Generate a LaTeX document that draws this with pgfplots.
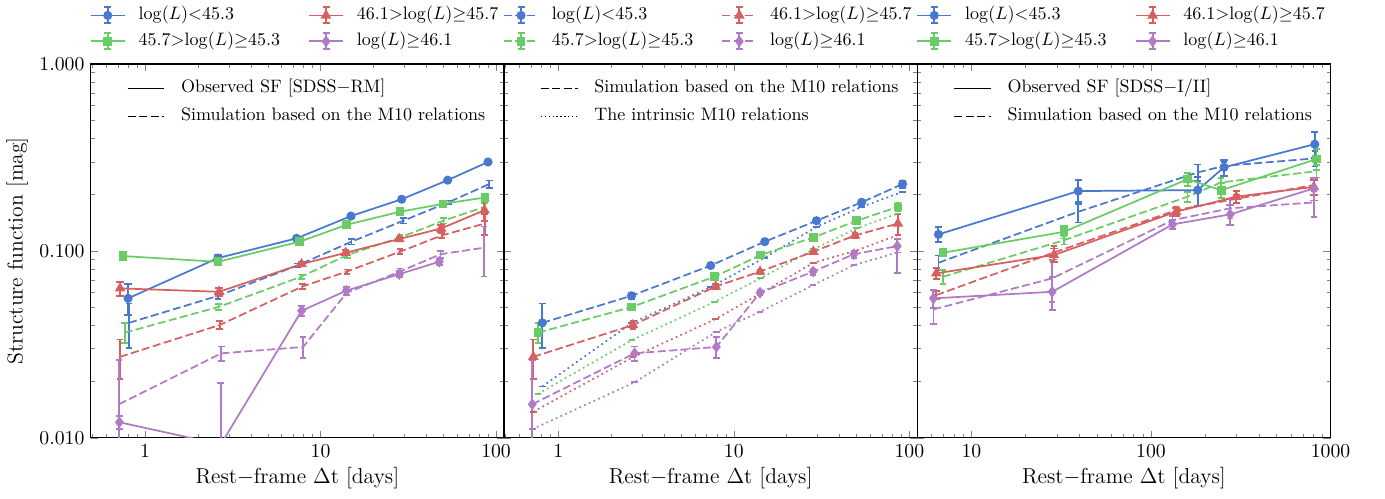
\documentclass[border=0pt]{standalone}
\usepackage{pgfplots}
\pgfplotsset{compat=1.18}
\definecolor{cb}{HTML}{4878D0}
\definecolor{cg}{HTML}{6ACC64}
\definecolor{cr}{HTML}{D65F5F}
\definecolor{cp}{HTML}{B07AC6}
\newcommand\LL{{\mathrm{log}}(L)}
\pgfplotsset{
  myB/.style={color=cb, mark=*, mark size=2.04pt},
  myG/.style={color=cg, mark=square*, mark size=1.92pt},
  myR/.style={color=cr, mark=triangle*, mark size=2.5pt},
  myP/.style={color=cp, mark=diamond*, mark size=2.5pt},
  myObs/.style={solid, line width=0.96pt, mark options={solid},
    error bars/y dir=both, error bars/y explicit,
    error bars/error bar style={line width=1.08pt, solid},
    error bars/error mark options={rotate=90, line width=1.08pt, solid, mark size=2.04pt}},
  mySim/.style={dash pattern=on 4.44pt off 1.92pt, line width=0.96pt, mark options={solid},
    error bars/y dir=both, error bars/y explicit,
    error bars/error bar style={line width=0.96pt, solid},
    error bars/error mark options={rotate=90, line width=0.96pt, solid, mark size=1.8pt}},
  myIntr/.style={dash pattern=on 0.96pt off 1.92pt, line width=0.96pt, mark=-, mark size=1.8pt,
    mark options={solid}},
  myTop/.style={legend columns=2, legend cell align=left,
    legend style={draw=none, fill=none, font=\fontsize{10}{12}\selectfont,
      at={(0.5,1)}, anchor=south, yshift=6.4pt, inner sep=0pt, row sep=2.4pt,
      /tikz/every even column/.append style={column sep=12pt},
      /tikz/every odd column/.append style={column sep=3.6pt},
      nodes={inner xsep=3.6pt, inner ysep=1.2pt, text height=7.2pt, text depth=2.4pt}}},
  myIn/.style={legend cell align=left,
    legend style={draw=none, fill=none, font=\fontsize{10}{12}\selectfont,
      at={(0,1)}, anchor=north west, xshift=19.95pt, yshift=-7.45pt,
      inner sep=0pt, row sep=3.5pt,
      /tikz/every odd column/.append style={column sep=5.3pt},
      nodes={inner xsep=3.6pt, inner ysep=1.2pt, text height=7.2pt, text depth=2.4pt}}},
}
\newcommand\errlegcode[1]{%
  \draw[#1, mark=none] (0pt,0pt) -- (18.9pt,0pt);
  \draw[#1, solid, mark=none, line width=1.08pt] (9.45pt,-4.45pt) -- (9.45pt,4.45pt)
     (7.5pt,-4.45pt) -- (11.4pt,-4.45pt) (7.5pt,4.45pt) -- (11.4pt,4.45pt);
  \path[#1, mark options={solid}] plot coordinates {(9.45pt,0pt)};}
\newcommand\linelegcode[1]{\draw[#1] (0pt,0pt) -- (20.4pt,0pt);}
\begin{document}
\begin{tikzpicture}
\useasboundingbox (0,0) rectangle (769.44pt,276.67pt);
% ================= Panel 1 =================
\begin{axis}[at={(50.4pt,33.5pt)}, anchor=south west,
  scale only axis, width=229.6pt, height=207.6pt,
  xmode=log, ymode=log, ymin=0.01, ymax=1,
  xmin=0.49, xmax=111,
  tick align=inside,
  major tick length=3.97pt, minor tick length=2.16pt,
  axis line style={line width=0.72pt},
  xtick={1,10,100}, xticklabels={1,10,100},
  minor xtick={0.5,0.6,0.7,0.8,0.9,2,3,4,5,6,7,8,9,20,30,40,50,60,70,80,90},
  ytick={0.01,0.1,1}, yticklabels={0.010,0.100,1.000},
  minor ytick={0.02,0.03,0.04,0.05,0.06,0.07,0.08,0.09,0.2,0.3,0.4,0.5,0.6,0.7,0.8,0.9},
  tick label style={font=\fontsize{10.95}{13}\selectfont},
  label style={font=\fontsize{12}{14}\selectfont},
  x label style={at={(axis description cs:0.5,-0.108)}, anchor=center},
  y label style={at={(axis description cs:-0.178,0.5)}, anchor=center},
  xlabel={Rest$-$frame $\Delta$t [days]},
  ylabel={Structure function [mag]},
  myTop, legend image code/.code={\errlegcode{#1}}]
\addlegendimage{cb, solid, mark=*, mark size=2.04pt, line width=0.96pt}
\addlegendentry{$\LL{<}45.3$}
\addlegendimage{cr, solid, mark=triangle*, mark size=2.5pt, line width=0.96pt}
\addlegendentry{$46.1{>}\LL{\geq}45.7$}
\addlegendimage{cg, solid, mark=square*, mark size=1.92pt, line width=0.96pt}
\addlegendentry{$45.7{>}\LL{\geq}45.3$}
\addlegendimage{cp, solid, mark=diamond*, mark size=2.5pt, line width=0.96pt}
\addlegendentry{$\LL{\geq}46.1$}
\addplot[myB, mySim, mark=none, forget plot] coordinates {
 (0.81,0.0412) +- (0,0.011) (2.61,0.0575) +- (0,0.002) (7.38,0.0835) +- (0,0.002)
 (15.0,0.112) +- (0,0.004) (29.6,0.145) +- (0,0.005) (53.5,0.182) +- (0,0.004)
 (91.6,0.228) +- (0,0.01)};
\addplot[myG, mySim, mark=none, forget plot] coordinates {
 (0.765,0.0365) +- (0,0.0045) (2.62,0.0501) +- (0,0.002) (7.77,0.0728) +- (0,0.002)
 (14.2,0.095) +- (0,0.003) (28.4,0.118) +- (0,0.004) (50.1,0.145) +- (0,0.005)
 (86.1,0.172) +- (0,0.008)};
\addplot[myR, mySim, mark=none, forget plot] coordinates {
 (0.72,0.0271) +- (0,0.0064) (2.66,0.0401) +- (0,0.002) (7.88,0.0645) +- (0,0.002)
 (14.1,0.0775) +- (0,0.002) (28.4,0.099) +- (0,0.003) (49,0.121) +- (0,0.004)
 (86.1,0.140) +- (0,0.018)};
\addplot[myP, mySim, mark=none, forget plot] coordinates {
 (0.71,0.0151) +- (0,0.011) (2.72,0.0283) +- (0,0.0025) (7.95,0.0306) +- (0,0.004)
 (14.1,0.0597) +- (0,0.002) (28.3,0.0775) +- (0,0.003) (48.3,0.096) +- (0,0.004)
 (85.4,0.104) +- (0,0.031)};
\addplot[myB, myObs, forget plot] coordinates {
 (0.80,0.0557) +- (0,0.0105) (2.6,0.0915) +- (0,0.003) (7.3,0.1167) +- (0,0.002)
 (14.9,0.1536) +- (0,0.003) (29,0.189) +- (0,0.003) (53,0.239) +- (0,0.003)
 (90,0.299) +- (0,0.004)};
\addplot[myG, myObs, forget plot] coordinates {
 (0.75,0.0938) +- (0,0.005) (2.6,0.0874) +- (0,0.002) (7.6,0.112) +- (0,0.002)
 (14.1,0.138) +- (0,0.002) (28.4,0.162) +- (0,0.003) (49.8,0.1786) +- (0,0.003)
 (86.5,0.193) +- (0,0.004)};
\addplot[myR, myObs, forget plot] coordinates {
 (0.72,0.063) +- (0,0.0055) (2.64,0.0604) +- (0,0.003) (7.8,0.085) +- (0,0.002)
 (13.9,0.0977) +- (0,0.003) (28.1,0.1157) +- (0,0.003) (48.6,0.1318) +- (0,0.006)
 (85.9,0.165) +- (0,0.02)};
\addplot[myP, myObs, forget plot] coordinates {
 (0.714,0.0121) +- (0,0.001) (2.7,0.0092) += (0,0.0104) -= (0,0.005)
 (7.8,0.0478) +- (0,0.003) (14,0.0612) +- (0,0.003) (28.1,0.0751) +- (0,0.003)
 (47.5,0.0875) +- (0,0.003)};
\end{axis}
\begin{axis}[at={(50.4pt,33.5pt)}, anchor=south west,
  scale only axis, width=229.6pt, height=207.6pt, hide axis,
  xmin=0, xmax=1, ymin=0, ymax=1, myIn,
  legend image code/.code={\linelegcode{#1}}]
\addlegendimage{black, line width=0.72pt}
\addlegendentry{Observed SF [SDSS$-$RM]}
\addlegendimage{black, line width=0.72pt, dash pattern=on 4.44pt off 1.92pt}
\addlegendentry{Simulation based on the M10 relations}
\end{axis}
% ================= Panel 2 =================
\begin{axis}[at={(280pt,33.5pt)}, anchor=south west,
  scale only axis, width=229.6pt, height=207.6pt,
  xmode=log, ymode=log, ymin=0.01, ymax=1,
  xmin=0.49, xmax=111,
  tick align=inside,
  major tick length=3.97pt, minor tick length=2.16pt,
  axis line style={line width=0.72pt},
  xtick={1,10,100}, xticklabels={1,10,100},
  minor xtick={0.5,0.6,0.7,0.8,0.9,2,3,4,5,6,7,8,9,20,30,40,50,60,70,80,90},
  ytick={0.01,0.1,1}, yticklabels={},
  minor ytick={0.02,0.03,0.04,0.05,0.06,0.07,0.08,0.09,0.2,0.3,0.4,0.5,0.6,0.7,0.8,0.9},
  tick label style={font=\fontsize{10.95}{13}\selectfont},
  label style={font=\fontsize{12}{14}\selectfont},
  x label style={at={(axis description cs:0.5,-0.108)}, anchor=center},
  xlabel={Rest$-$frame $\Delta$t [days]},
  myTop, legend image code/.code={\errlegcode{#1}}]
\addlegendimage{cb, dash pattern=on 4.44pt off 1.92pt, mark=*, mark size=2.04pt, line width=0.96pt}
\addlegendentry{$\LL{<}45.3$}
\addlegendimage{cr, dash pattern=on 4.44pt off 1.92pt, mark=triangle*, mark size=2.5pt, line width=0.96pt}
\addlegendentry{$46.1{>}\LL{\geq}45.7$}
\addlegendimage{cg, dash pattern=on 4.44pt off 1.92pt, mark=square*, mark size=1.92pt, line width=0.96pt}
\addlegendentry{$45.7{>}\LL{\geq}45.3$}
\addlegendimage{cp, dash pattern=on 4.44pt off 1.92pt, mark=diamond*, mark size=2.5pt, line width=0.96pt}
\addlegendentry{$\LL{\geq}46.1$}
\addplot[myB, myIntr, forget plot] coordinates {
 (0.81,0.0188) (2.61,0.041) (7.38,0.064) (15.0,0.092) (29.6,0.1345) (53.5,0.172) (91.6,0.207)};
\addplot[myG, myIntr, forget plot] coordinates {
 (0.765,0.01715) (2.62,0.0333) (7.77,0.0534) (14.2,0.0713) (28.4,0.102) (50.1,0.132) (86.1,0.1587)};
\addplot[myR, myIntr, forget plot] coordinates {
 (0.72,0.01378) (2.66,0.027) (7.88,0.0432) (14.1,0.059) (28.4,0.0863) (49,0.100) (86.1,0.1215)};
\addplot[myP, myIntr, forget plot] coordinates {
 (0.71,0.0111) (2.72,0.0198) (7.95,0.0369) (14.1,0.0472) (28.3,0.0656) (48.3,0.0839) (85.4,0.098)};
\addplot[myB, mySim, forget plot] coordinates {
 (0.81,0.0412) +- (0,0.011) (2.61,0.0575) +- (0,0.002) (7.38,0.0835) +- (0,0.002)
 (15.0,0.112) +- (0,0.004) (29.6,0.145) +- (0,0.005) (53.5,0.182) +- (0,0.004)
 (91.6,0.228) +- (0,0.01)};
\addplot[myG, mySim, forget plot] coordinates {
 (0.765,0.0365) +- (0,0.0045) (2.62,0.0501) +- (0,0.002) (7.77,0.0728) +- (0,0.002)
 (14.2,0.095) +- (0,0.003) (28.4,0.118) +- (0,0.004) (50.1,0.145) +- (0,0.005)
 (86.1,0.172) +- (0,0.008)};
\addplot[myR, mySim, forget plot] coordinates {
 (0.72,0.0271) +- (0,0.0064) (2.66,0.0401) +- (0,0.002) (7.88,0.0645) +- (0,0.002)
 (14.1,0.0775) +- (0,0.002) (28.4,0.099) +- (0,0.003) (49,0.121) +- (0,0.004)
 (86.1,0.140) +- (0,0.018)};
\addplot[myP, mySim, forget plot] coordinates {
 (0.71,0.0151) +- (0,0.011) (2.72,0.0283) +- (0,0.0025) (7.95,0.0306) +- (0,0.004)
 (14.1,0.0597) +- (0,0.002) (28.3,0.0775) +- (0,0.003) (48.3,0.096) +- (0,0.004)
 (85.4,0.106) += (0,0.01) -= (0,0.03)};
\end{axis}
\begin{axis}[at={(280pt,33.5pt)}, anchor=south west,
  scale only axis, width=229.6pt, height=207.6pt, hide axis,
  xmin=0, xmax=1, ymin=0, ymax=1, myIn,
  legend image code/.code={\linelegcode{#1}}]
\addlegendimage{black, line width=0.72pt, dash pattern=on 4.44pt off 1.92pt}
\addlegendentry{Simulation based on the M10 relations}
\addlegendimage{black, line width=0.6pt, dash pattern=on 0.72pt off 1.44pt}
\addlegendentry{The intrinsic M10 relations}
\end{axis}
% ================= Panel 3 =================
\begin{axis}[at={(509.6pt,33.5pt)}, anchor=south west,
  scale only axis, width=229.6pt, height=207.6pt,
  xmode=log, ymode=log, ymin=0.01, ymax=1,
  xmin=5, xmax=1000,
  tick align=inside,
  major tick length=3.97pt, minor tick length=2.16pt,
  axis line style={line width=0.72pt},
  xtick={10,100,1000}, xticklabels={10,100,1000},
  minor xtick={5,6,7,8,9,20,30,40,50,60,70,80,90,200,300,400,500,600,700,800,900},
  ytick={0.01,0.1,1}, yticklabels={},
  minor ytick={0.02,0.03,0.04,0.05,0.06,0.07,0.08,0.09,0.2,0.3,0.4,0.5,0.6,0.7,0.8,0.9},
  tick label style={font=\fontsize{10.95}{13}\selectfont},
  label style={font=\fontsize{12}{14}\selectfont},
  x label style={at={(axis description cs:0.5,-0.108)}, anchor=center},
  xlabel={Rest$-$frame $\Delta$t [days]},
  myTop, legend image code/.code={\errlegcode{#1}}]
\addlegendimage{cb, solid, mark=*, mark size=2.04pt, line width=0.96pt}
\addlegendentry{$\LL{<}45.3$}
\addlegendimage{cr, solid, mark=triangle*, mark size=2.5pt, line width=0.96pt}
\addlegendentry{$46.1{>}\LL{\geq}45.7$}
\addlegendimage{cg, solid, mark=square*, mark size=1.92pt, line width=0.96pt}
\addlegendentry{$45.7{>}\LL{\geq}45.3$}
\addlegendimage{cp, solid, mark=diamond*, mark size=2.5pt, line width=0.96pt}
\addlegendentry{$\LL{\geq}46.1$}
\addplot[myB, mySim, mark=none, forget plot] coordinates {
 (6.56,0.0864) +- (0,0.008) (39.4,0.162) +- (0,0.02) (182,0.263) +- (0,0.027)
 (255,0.285) +- (0,0.015) (817,0.3126) +- (0,0.03)};
\addplot[myG, mySim, mark=none, forget plot] coordinates {
 (6.95,0.0727) +- (0,0.006) (32.8,0.114) +- (0,0.006) (160,0.195) +- (0,0.012)
 (246,0.2326) +- (0,0.012) (835,0.267) +- (0,0.02)};
\addplot[myR, mySim, mark=none, forget plot] coordinates {
 (6.38,0.058) +- (0,0.003) (28.8,0.098) +- (0,0.008) (138,0.165) +- (0,0.006)
 (298.5,0.19) +- (0,0.01) (807,0.225) +- (0,0.015)};
\addplot[myP, mySim, mark=none, forget plot] coordinates {
 (6.15,0.0486) +- (0,0.008) (28.2,0.0713) +- (0,0.018) (132,0.146) +- (0,0.008)
 (276,0.169) +- (0,0.02) (807,0.1817) +- (0,0.03)};
\addplot[myB, myObs, forget plot] coordinates {
 (6.56,0.1225) +- (0,0.011) (39.4,0.209) +- (0,0.03) (182,0.2114) +- (0,0.037)
 (255,0.280) +- (0,0.028) (817,0.3725) +- (0,0.058)};
\addplot[myG, myObs, forget plot] coordinates {
 (6.95,0.0977) +- (0,0.004) (32.8,0.1265) +- (0,0.01) (160,0.242) +- (0,0.02)
 (246,0.211) +- (0,0.02) (835,0.310) +- (0,0.04)};
\addplot[myR, myObs, forget plot] coordinates {
 (6.38,0.0758) +- (0,0.005) (28.8,0.095) +- (0,0.008) (138,0.162) +- (0,0.008)
 (298.5,0.195) +- (0,0.014) (807,0.220) +- (0,0.02)};
\addplot[myP, myObs, forget plot] coordinates {
 (6.15,0.0557) +- (0,0.006) (28.2,0.0604) +- (0,0.012) (132,0.1386) +- (0,0.008)
 (276,0.1568) +- (0,0.02) (807,0.216) +- (0,0.03)};
\end{axis}
\begin{axis}[at={(509.6pt,33.5pt)}, anchor=south west,
  scale only axis, width=229.6pt, height=207.6pt, hide axis,
  xmin=0, xmax=1, ymin=0, ymax=1, myIn,
  legend image code/.code={\linelegcode{#1}}]
\addlegendimage{black, line width=0.72pt}
\addlegendentry{Observed SF [SDSS$-$I/II]}
\addlegendimage{black, line width=0.72pt, dash pattern=on 4.44pt off 1.92pt}
\addlegendentry{Simulation based on the M10 relations}
\end{axis}
\end{tikzpicture}
\end{document}
